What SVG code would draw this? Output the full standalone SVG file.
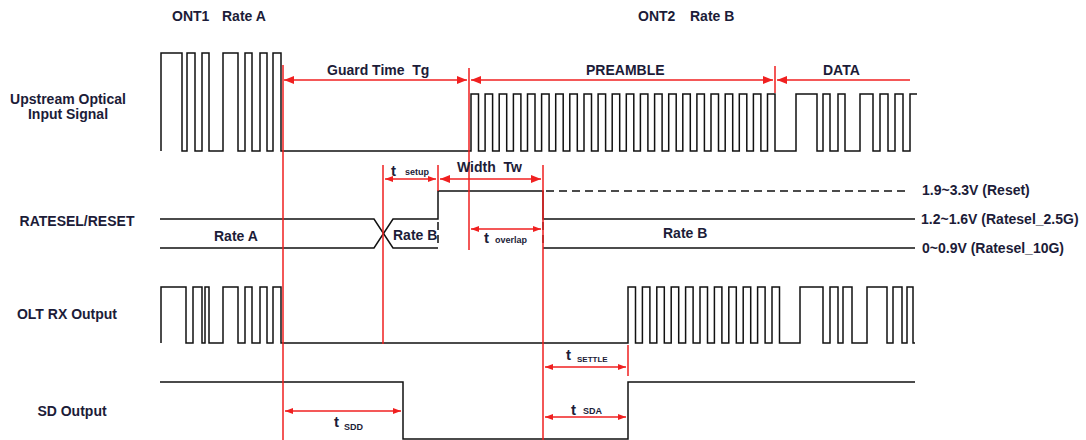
<svg xmlns="http://www.w3.org/2000/svg" width="1086" height="440" viewBox="0 0 1086 440">
<defs>
<style>
text{font-family:"Liberation Sans",Arial,sans-serif;font-weight:bold;fill:#1c1c38;white-space:pre}
.lbl{font-size:14px}
.t{font-size:15px}
.sub{font-size:9px}
.sig{fill:none;stroke:#111;stroke-width:1.5}
.dash{fill:none;stroke:#111;stroke-width:1.5;stroke-dasharray:8 5}
.red{fill:none;stroke:#f02020;stroke-width:1.5}
.arr{fill:none;stroke:#f02020;stroke-width:1.5;marker-start:url(#ah);marker-end:url(#ah)}
.arrs{fill:none;stroke:#f02020;stroke-width:1.5;marker-start:url(#as);marker-end:url(#as)}
</style>
<marker id="ah" viewBox="0 0 10 8" refX="10" refY="4" markerWidth="10" markerHeight="8" markerUnits="userSpaceOnUse" orient="auto-start-reverse"><path d="M0,0 L10,4 L0,8 Z" fill="#f02020"/></marker>
<marker id="as" viewBox="0 0 8 6" refX="8" refY="3" markerWidth="8" markerHeight="6" markerUnits="userSpaceOnUse" orient="auto-start-reverse"><path d="M0,0 L8,3 L0,6 Z" fill="#f02020"/></marker>
</defs>
<rect width="1086" height="440" fill="#fff"/>

<g id="titles">
<text class="lbl" x="172" y="21">ONT1</text>
<text class="lbl" x="222" y="21">Rate A</text>
<text class="lbl" x="638" y="21">ONT2</text>
<text class="lbl" x="690" y="21">Rate B</text>
</g>

<g id="row-labels" text-anchor="middle">
<text class="lbl" x="68" y="104">Upstream Optical</text>
<text class="lbl" x="68" y="119">Input Signal</text>
<text class="lbl" x="77" y="226">RATESEL/RESET</text>
<text class="lbl" x="67" y="319">OLT RX Output</text>
<text class="lbl" x="72" y="416">SD Output</text>
</g>

<g id="upstream">
<path class="sig" d="M161,151 V53 H182 V151 H187 V53 H195 V151 H202 V53 H209 V151 H223 V53 H238 V151 H245 V53 H252 V151 H260 V53 H267 V151 H273 V53 H281 V151 H471 V94 H478.5 V151 H485.1 V94 H492.6 V151 H499.2 V94 H506.7 V151 H513.4 V94 H520.9 V151 H527.5 V94 H535 V151 H541.6 V94 H549.1 V151 H555.7 V94 H563.2 V151 H569.8 V94 H577.3 V151 H584 V94 H591.5 V151 H598.1 V94 H605.6 V151 H612.2 V94 H619.7 V151 H626.3 V94 H633.8 V151 H640.4 V94 H647.9 V151 H654.6 V94 H662.1 V151 H668.7 V94 H676.2 V151 H682.8 V94 H690.3 V151 H696.9 V94 H704.4 V151 H711 V94 H718.5 V151 H725.2 V94 H732.7 V151 H739.3 V94 H746.8 V151 H753.4 V94 H760.9 V151 H767.5 V94 H775 V151 H796 V94 H817 V151 H823 V94 H830 V151 H838 V94 H845 V151 H860 V94 H873 V151 H880 V94 H888 V151 H895 V94 H903 V151 H910 V94 H917"/>
</g>

<g id="ratesel">
<path class="sig" d="M160,219 H374 L393,248 H438"/>
<path class="sig" d="M160,248 H374 L393,219 H438 V191 H543 V219 H915"/>
<path class="sig" d="M543,248 H915"/>
<path class="dash" d="M438,222 V248 M543,222 V248"/>
<path class="dash" d="M546,191 H907"/>
<text class="lbl" x="214" y="241">Rate A</text>
<text class="lbl" x="393" y="240">Rate B</text>
<text class="lbl" x="663" y="238">Rate B</text>
<text class="lbl" x="922" y="195">1.9~3.3V (Reset)</text>
<text class="lbl" x="921" y="224">1.2~1.6V (Ratesel_2.5G)</text>
<text class="lbl" x="922" y="253">0~0.9V (Ratesel_10G)</text>
</g>

<g id="olt-rx">
<path class="sig" d="M161,343 V287 H186 V343 H193 V287 H202 V343 H205 V287 H209 V343 H223 V287 H238 V343 H245 V287 H252 V343 H260 V287 H267 V343 H273 V287 H281 V343 H628 V287 H635.5 V343 H642.4 V287 H649.9 V343 H656.8 V287 H664.3 V343 H671.2 V287 H678.7 V343 H685.6 V287 H693.1 V343 H700 V287 H707.5 V343 H714.4 V287 H721.9 V343 H728.8 V287 H736.3 V343 H743.2 V287 H750.7 V343 H757.6 V287 H765.1 V343 H772 V287 H779.5 V343 H800 V287 H823 V343 H830 V287 H838 V343 H843 V287 H852 V343 H867 V287 H887 V343 H893 V287 H902 V343 H907 V287 H913 V343 H915"/>
</g>

<g id="sd-output">
<path class="sig" d="M160,382 H403 V439 H628 V382 H915"/>
</g>

<g id="connectors">
<path class="red" d="M283,65 V440 M469,68 V250 M775,66 V93 M383,165 V344 M438,165 V191 M543,165 V440 M628,345 V376"/>
<line class="arr" x1="284" y1="80" x2="467" y2="80"/>
<line class="arr" x1="471" y1="80" x2="773" y2="80"/>
<line class="arr" x1="777" y1="80" x2="910" y2="80" style="marker-end:none"/>
<line class="arrs" x1="385" y1="179" x2="436" y2="179"/>
<line class="arr" x1="440" y1="179" x2="541" y2="179"/>
<line class="arrs" x1="471" y1="229" x2="541" y2="229"/>
<line class="arrs" x1="545" y1="367" x2="626" y2="367"/>
<line class="arrs" x1="285" y1="411" x2="401" y2="411"/>
<line class="arrs" x1="545" y1="417" x2="626" y2="417"/>
</g>

<g id="timing-labels">
<text class="lbl" x="327" y="75" xml:space="preserve">Guard Time  Tg</text>
<text class="lbl" x="586" y="75">PREAMBLE</text>
<text class="lbl" x="823" y="75">DATA</text>
<text class="lbl" x="457" y="172" xml:space="preserve">Width  Tw</text>
<text class="t" x="391" y="176">t</text><text class="sub" x="405" y="175">setup</text>
<text class="t" x="484" y="243">t</text><text class="sub" x="495" y="243">overlap</text>
<text class="t" x="566" y="360">t</text><text class="sub" x="577" y="362" style="font-size:8px">SETTLE</text>
<text class="t" x="334" y="427">t</text><text class="sub" x="344" y="430">SDD</text>
<text class="t" x="571" y="415">t</text><text class="sub" x="583" y="414">SDA</text>
</g>
</svg>
